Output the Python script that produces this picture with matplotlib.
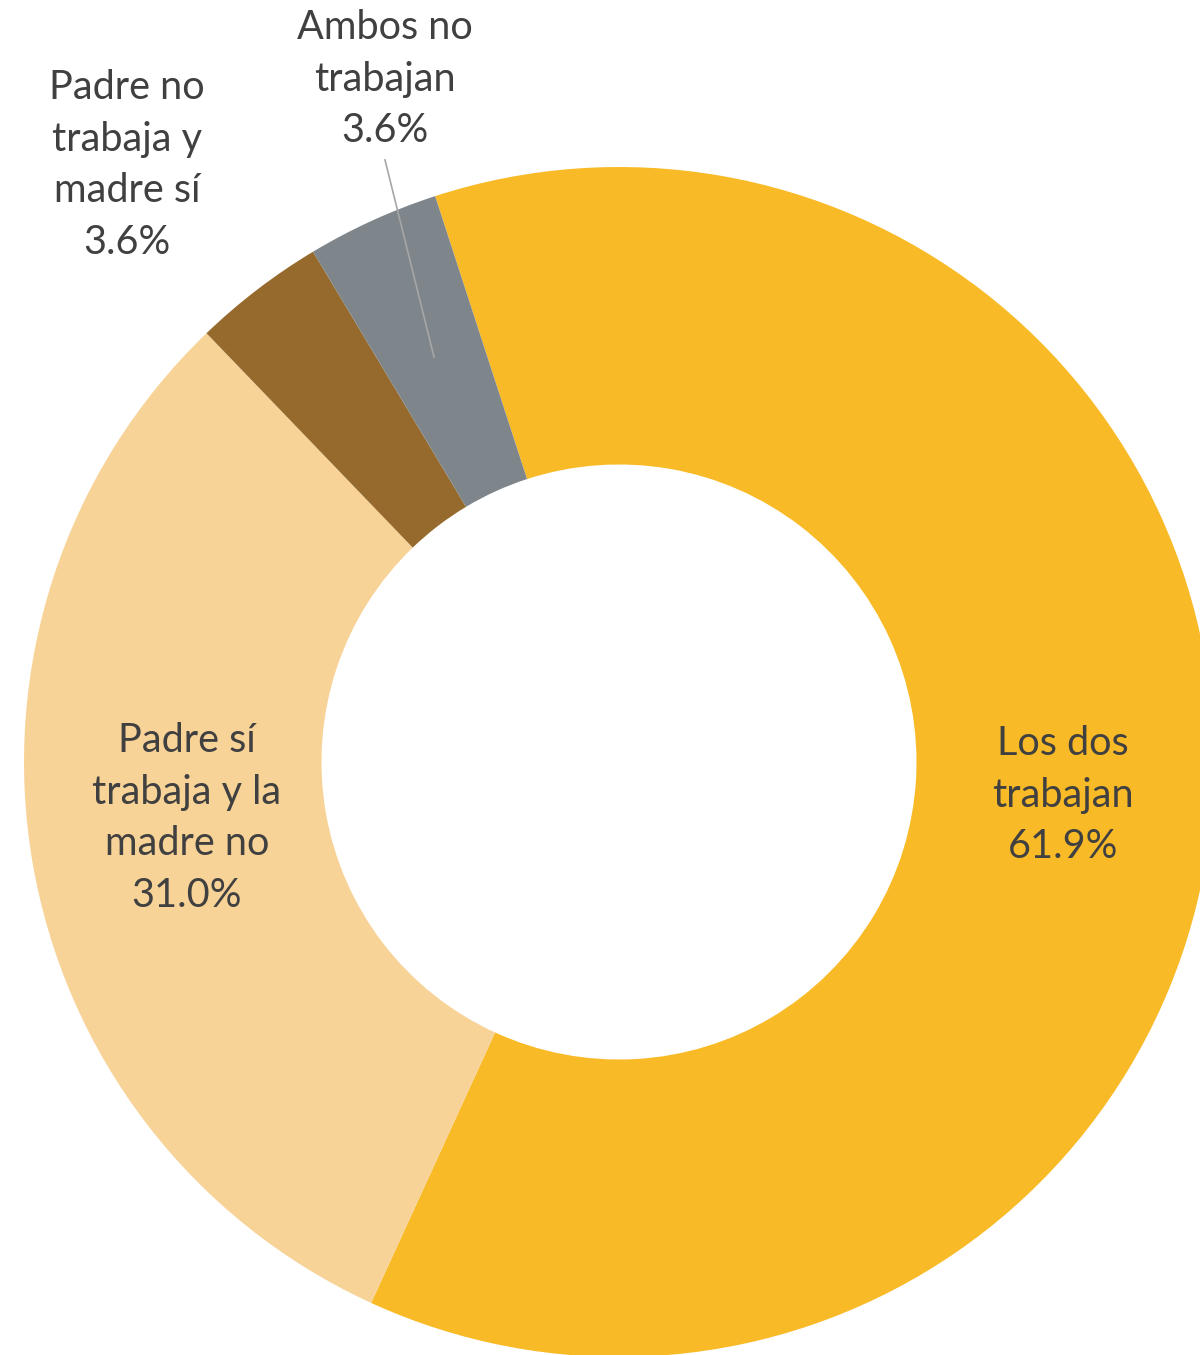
import matplotlib
matplotlib.use("Agg")
import matplotlib.pyplot as plt

categories = ["Los dos\ntrabajan", "Padre sí\ntrabaja y la\nmadre no", "Padre no\ntrabaja y\nmadre sí", "Ambos no\ntrabajan"]
values = [61.9, 31.0, 3.6, 3.6]
colors = ["#F9BA27", "#F8D398", "#956A2C", "#7E868C"]

W, H = 1200, 1355
fig = plt.figure(figsize=(W / 100, H / 100), dpi=100)
ax = fig.add_axes([0, 0, 1, 1])

cx, cy, R = 619, H - 762, 595
ax.pie(values, colors=colors, startangle=108, counterclock=False,
       center=(cx, cy), radius=R, wedgeprops=dict(width=R * 0.5, linewidth=0),
       normalize=True)
ax.set_xlim(0, W)
ax.set_ylim(0, H)
ax.set_aspect("equal")
ax.axis("off")

txt = dict(fontsize=28.5, color="#404040", ha="center", va="center",
           family="Lato", linespacing=1.49)
pos = [(1063, 795), (187, 818), (127, 165), (385, 79)]
for lab, v, (px, py) in zip(categories, values, pos):
    ax.text(px, H - py, f"{lab}\n{v:.1f}%", **txt)

ax.plot([385, 434], [H - 160, H - 357], color="#A6A6A6", lw=1.2)

fig.savefig("out.png", dpi=100)
